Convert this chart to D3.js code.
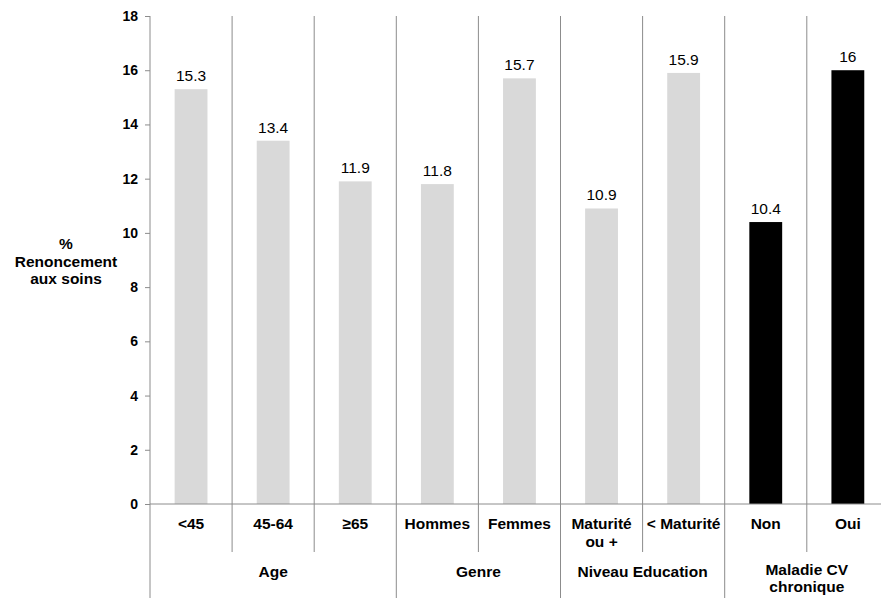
<!DOCTYPE html>
<html><head><meta charset="utf-8">
<script src="https://cdn.jsdelivr.net/npm/d3@7"></script>
<style>body{margin:0;background:#fff}svg{display:block;font-family:"Liberation Sans",Arial,sans-serif}</style>
</head><body>
<svg id="c" width="881" height="598"></svg>
<script>
const categories = ["<45","45-64","≥65","Hommes","Femmes","Maturité|ou +","< Maturité","Non","Oui"];
const values = [15.3,13.4,11.9,11.8,15.7,10.9,15.9,10.4,16];
const valueLabels = ["15.3","13.4","11.9","11.8","15.7","10.9","15.9","10.4","16"];
const groups = ["Age","Genre","Niveau Education","Maladie CV|chronique"];
const groupSizes = [3,2,2,2];
const highlight = [false,false,false,false,false,false,false,true,true];
const yTicks = [0,2,4,6,8,10,12,14,16,18];

const svg = d3.select("#c");
const x0 = 150, step = 82.1;
const x = d3.scaleBand().domain(d3.range(categories.length)).range([x0, x0 + step*categories.length]).paddingInner(0.6).paddingOuter(0.3);
const y = d3.scaleLinear().domain([0,18]).range([504,16]);
const gridColor = "#8c8c8c";
const fs = 15.5;

// bars
svg.selectAll("rect.bar").data(values).join("rect")
  .attr("x",(d,i)=>x(i)).attr("width",x.bandwidth())
  .attr("y",d=>y(d)).attr("height",d=>y(0)-y(d))
  .attr("fill",(d,i)=>highlight[i]?"#000":"#d9d9d9");

// value labels
svg.selectAll("text.val").data(values).join("text")
  .attr("x",(d,i)=>x(i)+x.bandwidth()/2).attr("y",d=>y(d)-8)
  .attr("text-anchor","middle").attr("font-size",fs).attr("fill","#000")
  .text((d,i)=>valueLabels[i]);

// separators
const sepX = d3.range(1,categories.length).map(i=>x0+step*i);
let cum = 0; const groupBounds = [0];
groupSizes.forEach(s=>{cum+=s; groupBounds.push(cum);});
sepX.forEach((sx,k)=>{
  const i = k+1;
  const isGroup = groupBounds.includes(i);
  svg.append("line").attr("x1",sx).attr("x2",sx).attr("y1",y(18)).attr("y2",isGroup?598:552)
    .attr("stroke",gridColor).attr("stroke-width",1);
});
svg.append("line").attr("x1",x0).attr("x2",x0).attr("y1",y(0)).attr("y2",598).attr("stroke",gridColor);

// y axis
const yAxis = d3.axisLeft(y).tickValues(yTicks).tickSize(5).tickPadding(7).tickFormat(d3.format("d"));
const ga = svg.append("g").attr("transform",`translate(${x0},0)`).call(yAxis);
ga.select(".domain").attr("stroke",gridColor).attr("d",`M0,${y(18)}V${y(0)}`);
ga.selectAll(".tick line").attr("stroke",gridColor);
ga.selectAll(".tick text").attr("font-size",14).attr("font-weight","bold").attr("fill","#000").attr("font-family","Liberation Sans, Arial, sans-serif");

// x axis line
svg.append("line").attr("x1",x0).attr("x2",881).attr("y1",y(0)).attr("y2",y(0)).attr("stroke",gridColor);

// category labels
categories.forEach((c,i)=>{
  const lines = c.split("|");
  const cx = x0+step*(i+0.5);
  const t = svg.append("text").attr("x",cx).attr("y",529).attr("text-anchor","middle")
    .attr("font-size",fs).attr("font-weight","bold").attr("fill","#000");
  lines.forEach((l,j)=>t.append("tspan").attr("x",cx).attr("dy",j?18:0).text(l));
});

// group labels
groups.forEach((g,k)=>{
  const cx = x0 + step*(groupBounds[k]+groupBounds[k+1])/2;
  const lines = g.split("|");
  const t = svg.append("text").attr("x",cx).attr("y",lines.length>1?575:577).attr("text-anchor","middle")
    .attr("font-size",fs).attr("font-weight","bold").attr("fill","#000");
  lines.forEach((l,j)=>t.append("tspan").attr("x",cx).attr("dy",j?17:0).text(l));
});

// y title
const yt = svg.append("text").attr("text-anchor","middle").attr("font-size",fs).attr("font-weight","bold").attr("fill","#000");
["%","Renoncement","aux soins"].forEach((l,j)=>yt.append("tspan").attr("x",66).attr("y",249+j*17.5).text(l));
</script>
</body></html>
